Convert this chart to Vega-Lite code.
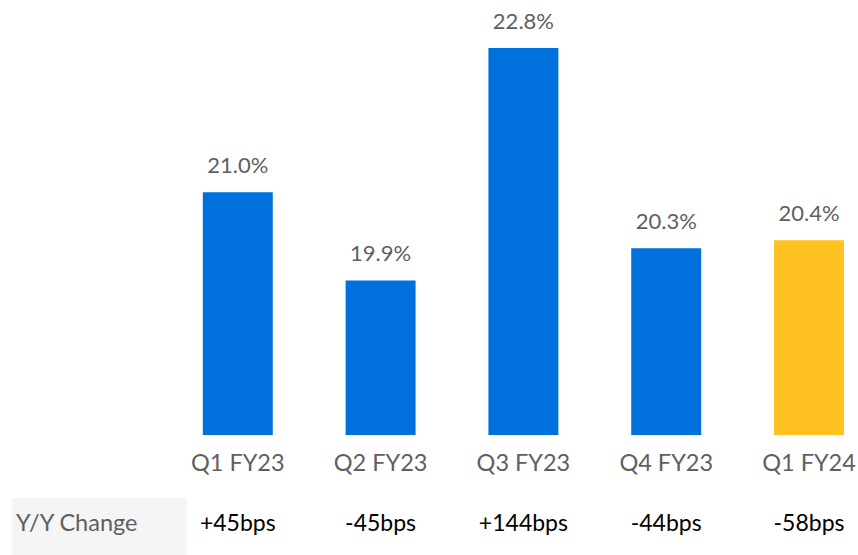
{
  "$schema": "https://vega.github.io/schema/vega-lite/v6.json",
  "autosize": {"type": "none"},
  "padding": {"left": 46, "top": 0, "right": 0, "bottom": 120},
  "width": 812,
  "height": 435,
  "background": "white",
  "config": {"view": {"stroke": null}, "font": "Lato"},
  "data": {"values": [
    {"quarter": "Q1 FY23", "value": 21.0, "label": "21.0%", "change": "+45bps"},
    {"quarter": "Q2 FY23", "value": 19.9, "label": "19.9%", "change": "-45bps"},
    {"quarter": "Q3 FY23", "value": 22.8, "label": "22.8%", "change": "+144bps"},
    {"quarter": "Q4 FY23", "value": 20.3, "label": "20.3%", "change": "-44bps"},
    {"quarter": "Q1 FY24", "value": 20.4, "label": "20.4%", "change": "-58bps"}
  ]},
  "encoding": {
    "x": {
      "field": "quarter", "type": "nominal", "sort": null,
      "scale": {"domain": ["Y/Y Change", "Q1 FY23", "Q2 FY23", "Q3 FY23", "Q4 FY23", "Q1 FY24"], "paddingInner": 0.51, "paddingOuter": 0.098},
      "axis": {"title": null, "domain": false, "ticks": false, "labelAngle": 0, "labelFontSize": 23.5, "labelColor": "#5f5f5f", "labelPadding": 16, "labelFont": "Lato",
        "labelExpr": "datum.value == 'Y/Y Change' ? '' : datum.value"}
    }
  },
  "layer": [
    {
      "mark": {"type": "bar"},
      "encoding": {
        "y": {"field": "value", "type": "quantitative", "scale": {"domain": [17.97, 23.4], "zero": false, "nice": false}, "axis": null},
        "y2": {"datum": 17.97},
        "color": {"condition": {"test": "datum.quarter == 'Q1 FY24'", "value": "#FFC220"}, "value": "#0071DC"}
      }
    },
    {
      "mark": {"type": "text", "baseline": "alphabetic", "dy": -19, "fontSize": 22, "color": "#5f5f5f"},
      "encoding": {
        "y": {"field": "value", "type": "quantitative"},
        "text": {"field": "label"}
      }
    },
    {
      "mark": {"type": "text", "baseline": "alphabetic", "fontSize": 23, "color": "#000000"},
      "encoding": {
        "y": {"datum": 16.77},
        "text": {"field": "change"}
      }
    },
    {
      "data": {"values": [{"row": "Y/Y Change"}]},
      "mark": {"type": "bar", "color": "#F5F5F5", "width": 175, "xOffset": 4},
      "encoding": {
        "x": {"field": "row", "type": "nominal"},
        "y": {"datum": 17.183},
        "y2": {"datum": 16.472}
      }
    },
    {
      "data": {"values": [{"row": "Y/Y Change"}]},
      "mark": {"type": "text", "align": "left", "baseline": "alphabetic", "dx": -79, "fontSize": 23.5, "color": "#5f5f5f"},
      "encoding": {
        "x": {"field": "row", "type": "nominal"},
        "y": {"datum": 16.77},
        "text": {"field": "row"}
      }
    }
  ]
}
